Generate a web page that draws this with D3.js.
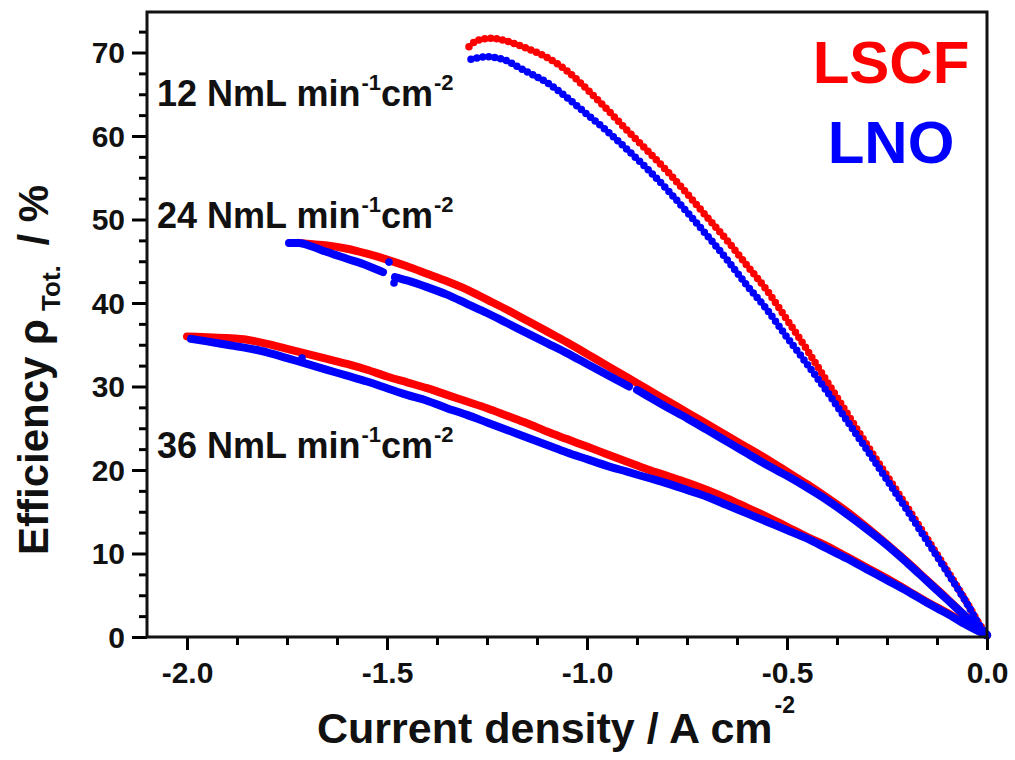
<!DOCTYPE html>
<html>
<head>
<meta charset="utf-8">
<script src="https://cdn.jsdelivr.net/npm/d3@7/dist/d3.min.js"></script>
<style>
  html, body { margin: 0; padding: 0; background: #fff; }
  svg { display: block; }
  text { font-family: "Liberation Sans", Arial, sans-serif; font-weight: bold; }
</style>
</head>
<body>
<svg id="chart" width="1015" height="760"></svg>
<script>
// ---------- data (current density A cm^-2, efficiency %) ----------
const lscf12 = [[-1.295,70.7],[-1.28,71.3],[-1.26,71.6],[-1.24,71.7],[-1.22,71.6],[-1.19,71.2],[-1.15,70.5],[-1.10,69.4],[-1.05,67.8],[-1.00,65.6],[-0.95,63.2],[-0.90,60.7],[-0.85,58.3],[-0.80,55.8],[-0.75,53.1],[-0.70,50.3],[-0.65,47.5],[-0.60,44.5],[-0.55,41.5],[-0.50,38.0],[-0.45,34.4],[-0.40,30.6],[-0.35,26.8],[-0.30,23.0],[-0.25,19.3],[-0.20,15.6],[-0.15,11.8],[-0.10,8.0],[-0.05,4.1],[-0.01,0.9],[0,0.3]];
const lno12 = [[-1.29,69.2],[-1.27,69.4],[-1.25,69.5],[-1.23,69.4],[-1.20,69.0],[-1.17,68.2],[-1.13,67.2],[-1.10,66.4],[-1.05,64.6],[-1.00,62.6],[-0.95,60.6],[-0.90,58.4],[-0.85,56.1],[-0.80,53.6],[-0.75,50.9],[-0.70,48.1],[-0.65,45.2],[-0.60,42.1],[-0.55,39.2],[-0.50,35.9],[-0.45,32.7],[-0.40,29.4],[-0.35,25.9],[-0.30,22.4],[-0.25,18.8],[-0.20,15.2],[-0.15,11.5],[-0.10,7.8],[-0.05,4.0],[-0.01,0.8],[0,0.3]];
const lscf24 = [[-1.72,47.2],[-1.70,47.1],[-1.65,46.9],[-1.60,46.5],[-1.55,45.9],[-1.50,45.2],[-1.45,44.4],[-1.40,43.5],[-1.35,42.6],[-1.30,41.6],[-1.25,40.4],[-1.20,39.2],[-1.15,37.9],[-1.10,36.6],[-1.05,35.3],[-1.00,33.9],[-0.95,32.5],[-0.90,31.1],[-0.85,29.7],[-0.80,28.3],[-0.75,26.9],[-0.70,25.5],[-0.65,24.1],[-0.60,22.7],[-0.55,21.3],[-0.50,19.8],[-0.45,18.3],[-0.40,16.7],[-0.35,15.0],[-0.30,13.1],[-0.25,11.1],[-0.20,9.0],[-0.15,6.8],[-0.10,4.6],[-0.05,2.3],[-0.01,0.5],[0,0.2]];
const lno24 = [[-1.745,47.2],[-1.72,47.2],[-1.69,46.8],[-1.65,46.1],[-1.60,45.3],[-1.55,44.5],[-1.51,43.7],[-1.495,null],[-1.48,43.1],[-1.45,42.7],[-1.40,41.9],[-1.35,41.0],[-1.30,39.9],[-1.25,38.8],[-1.20,37.6],[-1.15,36.4],[-1.10,35.2],[-1.05,34.0],[-1.00,32.7],[-0.95,31.4],[-0.895,30.0],[-0.885,null],[-0.875,29.6],[-0.85,28.9],[-0.80,27.5],[-0.75,26.2],[-0.70,24.8],[-0.65,23.4],[-0.60,22.0],[-0.55,20.6],[-0.50,19.3],[-0.45,17.9],[-0.40,16.4],[-0.35,14.7],[-0.30,12.9],[-0.25,11.0],[-0.20,8.9],[-0.15,6.7],[-0.10,4.5],[-0.05,2.3],[-0.01,0.5],[0,0.2]];
const lscf36 = [[-2.00,36.0],[-1.95,35.9],[-1.90,35.8],[-1.85,35.6],[-1.80,35.1],[-1.75,34.5],[-1.70,33.9],[-1.65,33.3],[-1.60,32.7],[-1.55,32.0],[-1.50,31.2],[-1.45,30.5],[-1.40,29.8],[-1.35,29.0],[-1.30,28.2],[-1.25,27.4],[-1.20,26.5],[-1.15,25.6],[-1.10,24.6],[-1.05,23.7],[-1.00,22.8],[-0.95,21.9],[-0.90,21.0],[-0.85,20.1],[-0.80,19.3],[-0.75,18.5],[-0.70,17.6],[-0.65,16.6],[-0.60,15.5],[-0.55,14.4],[-0.50,13.2],[-0.45,12.0],[-0.40,10.9],[-0.35,9.6],[-0.30,8.3],[-0.25,7.0],[-0.20,5.6],[-0.15,4.2],[-0.10,2.9],[-0.05,1.5],[0,0.2]];
const lno36 = [[-1.99,35.7],[-1.95,35.4],[-1.90,35.0],[-1.85,34.6],[-1.80,34.1],[-1.75,33.4],[-1.70,32.7],[-1.65,32.0],[-1.60,31.3],[-1.55,30.6],[-1.50,29.8],[-1.45,29.0],[-1.40,28.3],[-1.35,27.4],[-1.30,26.6],[-1.25,25.7],[-1.20,24.8],[-1.15,23.9],[-1.10,23.0],[-1.05,22.1],[-1.00,21.3],[-0.95,20.5],[-0.90,19.8],[-0.85,19.1],[-0.80,18.4],[-0.75,17.6],[-0.70,16.8],[-0.65,15.8],[-0.60,14.8],[-0.55,13.8],[-0.50,12.8],[-0.45,11.8],[-0.40,10.6],[-0.35,9.4],[-0.30,8.1],[-0.25,6.8],[-0.20,5.5],[-0.15,4.1],[-0.10,2.8],[-0.05,1.4],[0,0.2]];
const lnoOutliers = [[-1.495,44.9],[-1.4825,42.4],[-1.7125,33.4]];

const xTickValues = [-2.0, -1.5, -1.0, -0.5, 0.0];
const xTickLabels = ["-2.0", "-1.5", "-1.0", "-0.5", "0.0"];
const yTickValues = [0, 10, 20, 30, 40, 50, 60, 70];
const yTickLabels = ["0", "10", "20", "30", "40", "50", "60", "70"];
const flowLabels = ["12", "24", "36"];
const legendNames = ["LSCF", "LNO"];
const legendColors = ["#ff0000", "#0000ff"];

// ---------- layout ----------
const L = 147, R = 987, T = 12, B = 637;
const svg = d3.select("#chart");
const x = d3.scaleLinear().domain([-2.1, 0]).range([L, R]);
const y = d3.scaleLinear().domain([0, 74.85]).range([B, T]);
const flowLabelBaselines = [106, 228, 458];

// ---------- series ----------
const line = d3.line()
  .defined(d => d[1] !== null)
  .x(d => x(d[0])).y(d => y(d[1]))
  .curve(d3.curveMonotoneX);

const series = [
  {data: lscf36, color: legendColors[0], dotted: false},
  {data: lscf24, color: legendColors[0], dotted: false},
  {data: lscf12, color: legendColors[0], dotted: true},
  {data: lno36, color: legendColors[1], dotted: false},
  {data: lno24, color: legendColors[1], dotted: false},
  {data: lno12, color: legendColors[1], dotted: true}
];
const gData = svg.append("g");
series.forEach(s => {
  gData.append("path")
    .attr("d", line(s.data))
    .attr("fill", "none")
    .attr("stroke", s.color)
    .attr("stroke-width", s.dotted ? 7.5 : 8)
    .attr("stroke-linecap", "round")
    .attr("stroke-linejoin", "round")
    .attr("stroke-dasharray", s.dotted ? "0 6" : null);
});
gData.selectAll("circle.out").data(lnoOutliers).enter().append("circle")
  .attr("cx", d => x(d[0])).attr("cy", d => y(d[1])).attr("r", 3.8)
  .attr("fill", legendColors[1]);

// ---------- axes ----------
const xMinor = d3.range(-2.0, 0.001, 0.125).filter(v => Math.abs(v * 2 - Math.round(v * 2)) > 1e-6);
const yMinor = d3.range(0, 74, 2.5).filter(v => v % 10 !== 0);

const gx = svg.append("g").attr("transform", `translate(0,${B})`)
  .call(d3.axisBottom(x).tickValues(xTickValues).tickFormat((d, i) => xTickLabels[i]).tickSize(13).tickSizeOuter(0));
gx.select(".domain").remove();
gx.selectAll(".tick line").attr("stroke", "#000").attr("stroke-width", 3);
gx.selectAll(".tick text").attr("y", 46).attr("dy", 0).attr("font-size", 30).attr("fill", "#111")
  .attr("font-family", "Liberation Sans, Arial, sans-serif");
const gxm = svg.append("g").attr("transform", `translate(0,${B})`)
  .call(d3.axisBottom(x).tickValues(xMinor).tickFormat("").tickSize(8).tickSizeOuter(0));
gxm.select(".domain").remove();
gxm.selectAll(".tick line").attr("stroke", "#000").attr("stroke-width", 3);

const gy = svg.append("g").attr("transform", `translate(${L},0)`)
  .call(d3.axisLeft(y).tickValues(yTickValues).tickFormat((d, i) => yTickLabels[i]).tickSize(15).tickSizeOuter(0));
gy.select(".domain").remove();
gy.selectAll(".tick line").attr("stroke", "#000").attr("stroke-width", 3);
gy.selectAll(".tick text").attr("x", -22).attr("dy", "0.35em").attr("font-size", 30).attr("fill", "#111")
  .attr("font-family", "Liberation Sans, Arial, sans-serif");
const gym = svg.append("g").attr("transform", `translate(${L},0)`)
  .call(d3.axisLeft(y).tickValues(yMinor).tickFormat("").tickSize(8).tickSizeOuter(0));
gym.select(".domain").remove();
gym.selectAll(".tick line").attr("stroke", "#000").attr("stroke-width", 3);

// frame
svg.append("path")
  .attr("d", `M${L},${T}H${R}V${B}H${L}Z`)
  .attr("fill", "none").attr("stroke", "#111").attr("stroke-width", 3);

// ---------- titles ----------
const xt = svg.append("text").attr("x", 317).attr("y", 743).attr("font-size", 43).attr("fill", "#111");
xt.append("tspan").text("Current density / A cm");
xt.append("tspan").attr("font-size", 23).attr("dx", 2).attr("dy", -30).text("-2");

const yt = svg.append("text").attr("transform", "translate(48,555) rotate(-90)")
  .attr("font-size", 42).attr("fill", "#111");
yt.append("tspan").text("Efficiency ρ");
yt.append("tspan").attr("font-size", 26).attr("dx", 8).attr("dy", 12).text("Tot.");
yt.append("tspan").attr("dx", 8).attr("dy", -12).text(" / %");

// ---------- flow-rate annotations ----------
flowLabels.forEach((f, i) => {
  const t = svg.append("text").attr("x", 157).attr("y", flowLabelBaselines[i]).attr("font-size", 36).attr("fill", "#111");
  t.append("tspan").text(f + " NmL min");
  t.append("tspan").attr("font-size", 22).attr("dx", 1).attr("dy", -16).text("-1");
  t.append("tspan").attr("font-size", 36).attr("dy", 16).text("cm");
  t.append("tspan").attr("font-size", 22).attr("dx", 1).attr("dy", -16).text("-2");
});

// ---------- legend ----------
legendNames.forEach((n, i) => {
  svg.append("text").attr("x", 891).attr("y", 83 + i * 80).attr("text-anchor", "middle")
    .attr("font-size", 60).attr("fill", legendColors[i]).text(n);
});
</script>
</body>
</html>
